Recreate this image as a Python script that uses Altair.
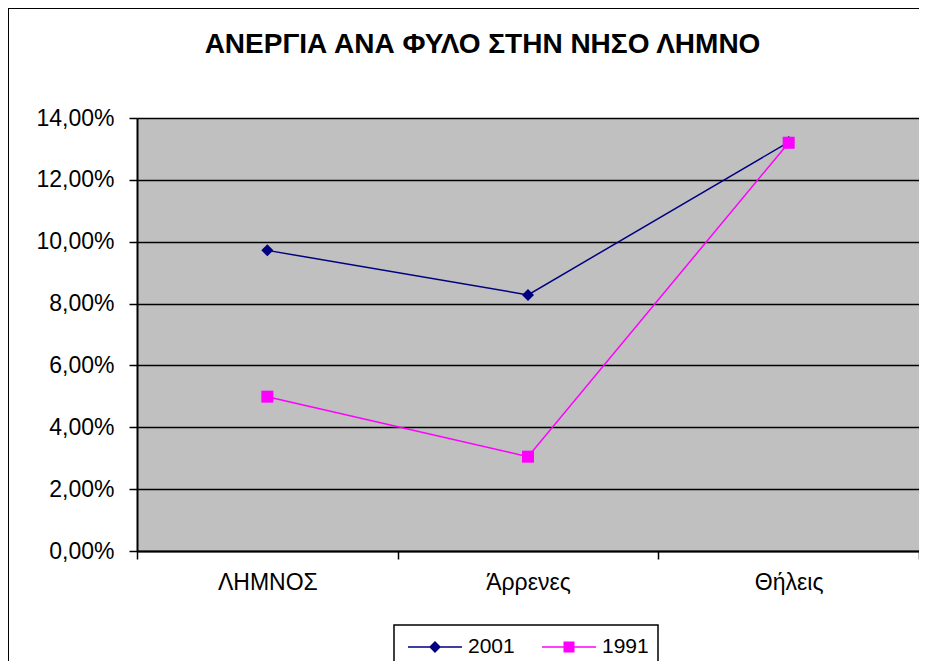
import altair as alt
import pandas as pd

categories = ["ΛΗΜΝΟΣ", "Άρρενες", "Θήλεις"]
series_names = ["2001", "1991"]
values_2001 = [0.0972, 0.0828, 0.1322]
values_1991 = [0.0499, 0.0305, 0.1320]
y_ticks = [0.0, 0.02, 0.04, 0.06, 0.08, 0.10, 0.12, 0.14]
title_text = "ΑΝΕΡΓΙΑ ΑΝΑ ΦΥΛΟ ΣΤΗΝ ΝΗΣΟ ΛΗΜΝΟ"
series_colors = ["#000080", "#FF00FF"]
point_shapes = ["diamond", "square"]
legend_shapes = [
    "M-1,-0.028H-0.194L0,-0.222L0.194,-0.028H1V0.028H0.194L0,0.222L-0.194,0.028H-1Z",
    "M-1,-0.028H-0.204V-0.204H0.204V-0.028H1V0.028H0.204V0.204H-0.204V0.028H-1Z",
]

rows = []
for s, vals in zip(series_names, [values_2001, values_1991]):
    for c, v in zip(categories, vals):
        rows.append({"category": c, "series": s, "value": v})
df = pd.DataFrame(rows)

FONT = "Liberation Sans"
W, H = 782, 433

x_enc = alt.X(
    "category:N",
    sort=categories,
    bandPosition=0.5,
    scale=alt.Scale(type="band", paddingInner=0, paddingOuter=0),
    axis=alt.Axis(
        title=None, labelAngle=0, tickBand="extent", grid=False,
        domainColor="black", domainWidth=2, tickColor="black", tickWidth=1.5,
        tickSize=8, labelFont=FONT, labelFontSize=23, labelColor="black",
        labelPadding=12,
    ),
)
y_enc = alt.Y(
    "value:Q",
    scale=alt.Scale(domain=[0, 0.14], nice=False, zero=True),
    axis=alt.Axis(
        title=None, values=y_ticks, grid=True, gridColor="black", gridWidth=1.5,
        gridOpacity=1, domainColor="black", domainWidth=2, tickColor="black",
        tickWidth=1.5, tickSize=8, labelFont=FONT, labelFontSize=23,
        labelColor="black", labelPadding=15,
        labelExpr="replace(format(datum.value, '.2%'), '.', ',')",
    ),
)
color_scale = alt.Scale(domain=series_names, range=series_colors)

base = alt.Chart(df)

lines = base.mark_line(strokeWidth=1.5).encode(
    x=x_enc, y=y_enc,
    color=alt.Color("series:N", scale=color_scale, legend=None),
)
point_layers = []
for s, shp in zip(series_names, point_shapes):
    point_layers.append(
        base.transform_filter(alt.datum.series == s)
        .mark_point(filled=True, size=144, opacity=1, shape=shp)
        .encode(x=x_enc, y=y_enc,
                color=alt.Color("series:N", scale=color_scale, legend=None))
    )

legend_props = dict(
    orient="none", legendX=271, legendY=502, direction="horizontal",
    title=None, padding=0, labelFont=FONT,
    labelFontSize=21, labelColor="black", symbolSize=2916,
    symbolStrokeWidth=0, labelOffset=6, columnPadding=27,
    symbolOpacity=1,
)
legend_layer = base.transform_filter("false").mark_point(filled=True).encode(
    x=x_enc, y=y_enc,
    color=alt.Color("series:N", scale=color_scale, legend=alt.Legend(**legend_props)),
    shape=alt.Shape("series:N", scale=alt.Scale(domain=series_names, range=legend_shapes),
                    legend=alt.Legend(**legend_props)),
)

frame = alt.Chart(pd.DataFrame({"k": [0]})).mark_rect(
    fill=None, stroke="black", strokeWidth=2
).encode(
    x=alt.value(-129), x2=alt.value(W + 60), y=alt.value(-110), y2=alt.value(H + 160)
)

legend_box = alt.Chart(pd.DataFrame({"k": [0]})).mark_rect(
    fill="white", stroke="black", strokeWidth=1.5
).encode(
    x=alt.value(257), x2=alt.value(521), y=alt.value(507), y2=alt.value(H + 140)
)

title = alt.Chart(pd.DataFrame({"t": [title_text]})).mark_text(
    font=FONT, fontSize=28, fontWeight="bold", color="black",
    align="center", baseline="alphabetic",
).encode(text="t:N", x=alt.value(345.5), y=alt.value(-65))

chart = alt.layer(frame, legend_box, title, lines, *point_layers, legend_layer).resolve_legend(
    color="independent", shape="independent"
).properties(
    width=W, height=H,
    autosize=alt.AutoSizeParams(type="none"),
    padding={"left": 129, "top": 110, "right": 0, "bottom": 110},
).configure(
    background="white"
).configure_view(
    fill="#C0C0C0", stroke=None
)

chart.save("out.html", embed_options={"renderer": "svg", "actions": False})
